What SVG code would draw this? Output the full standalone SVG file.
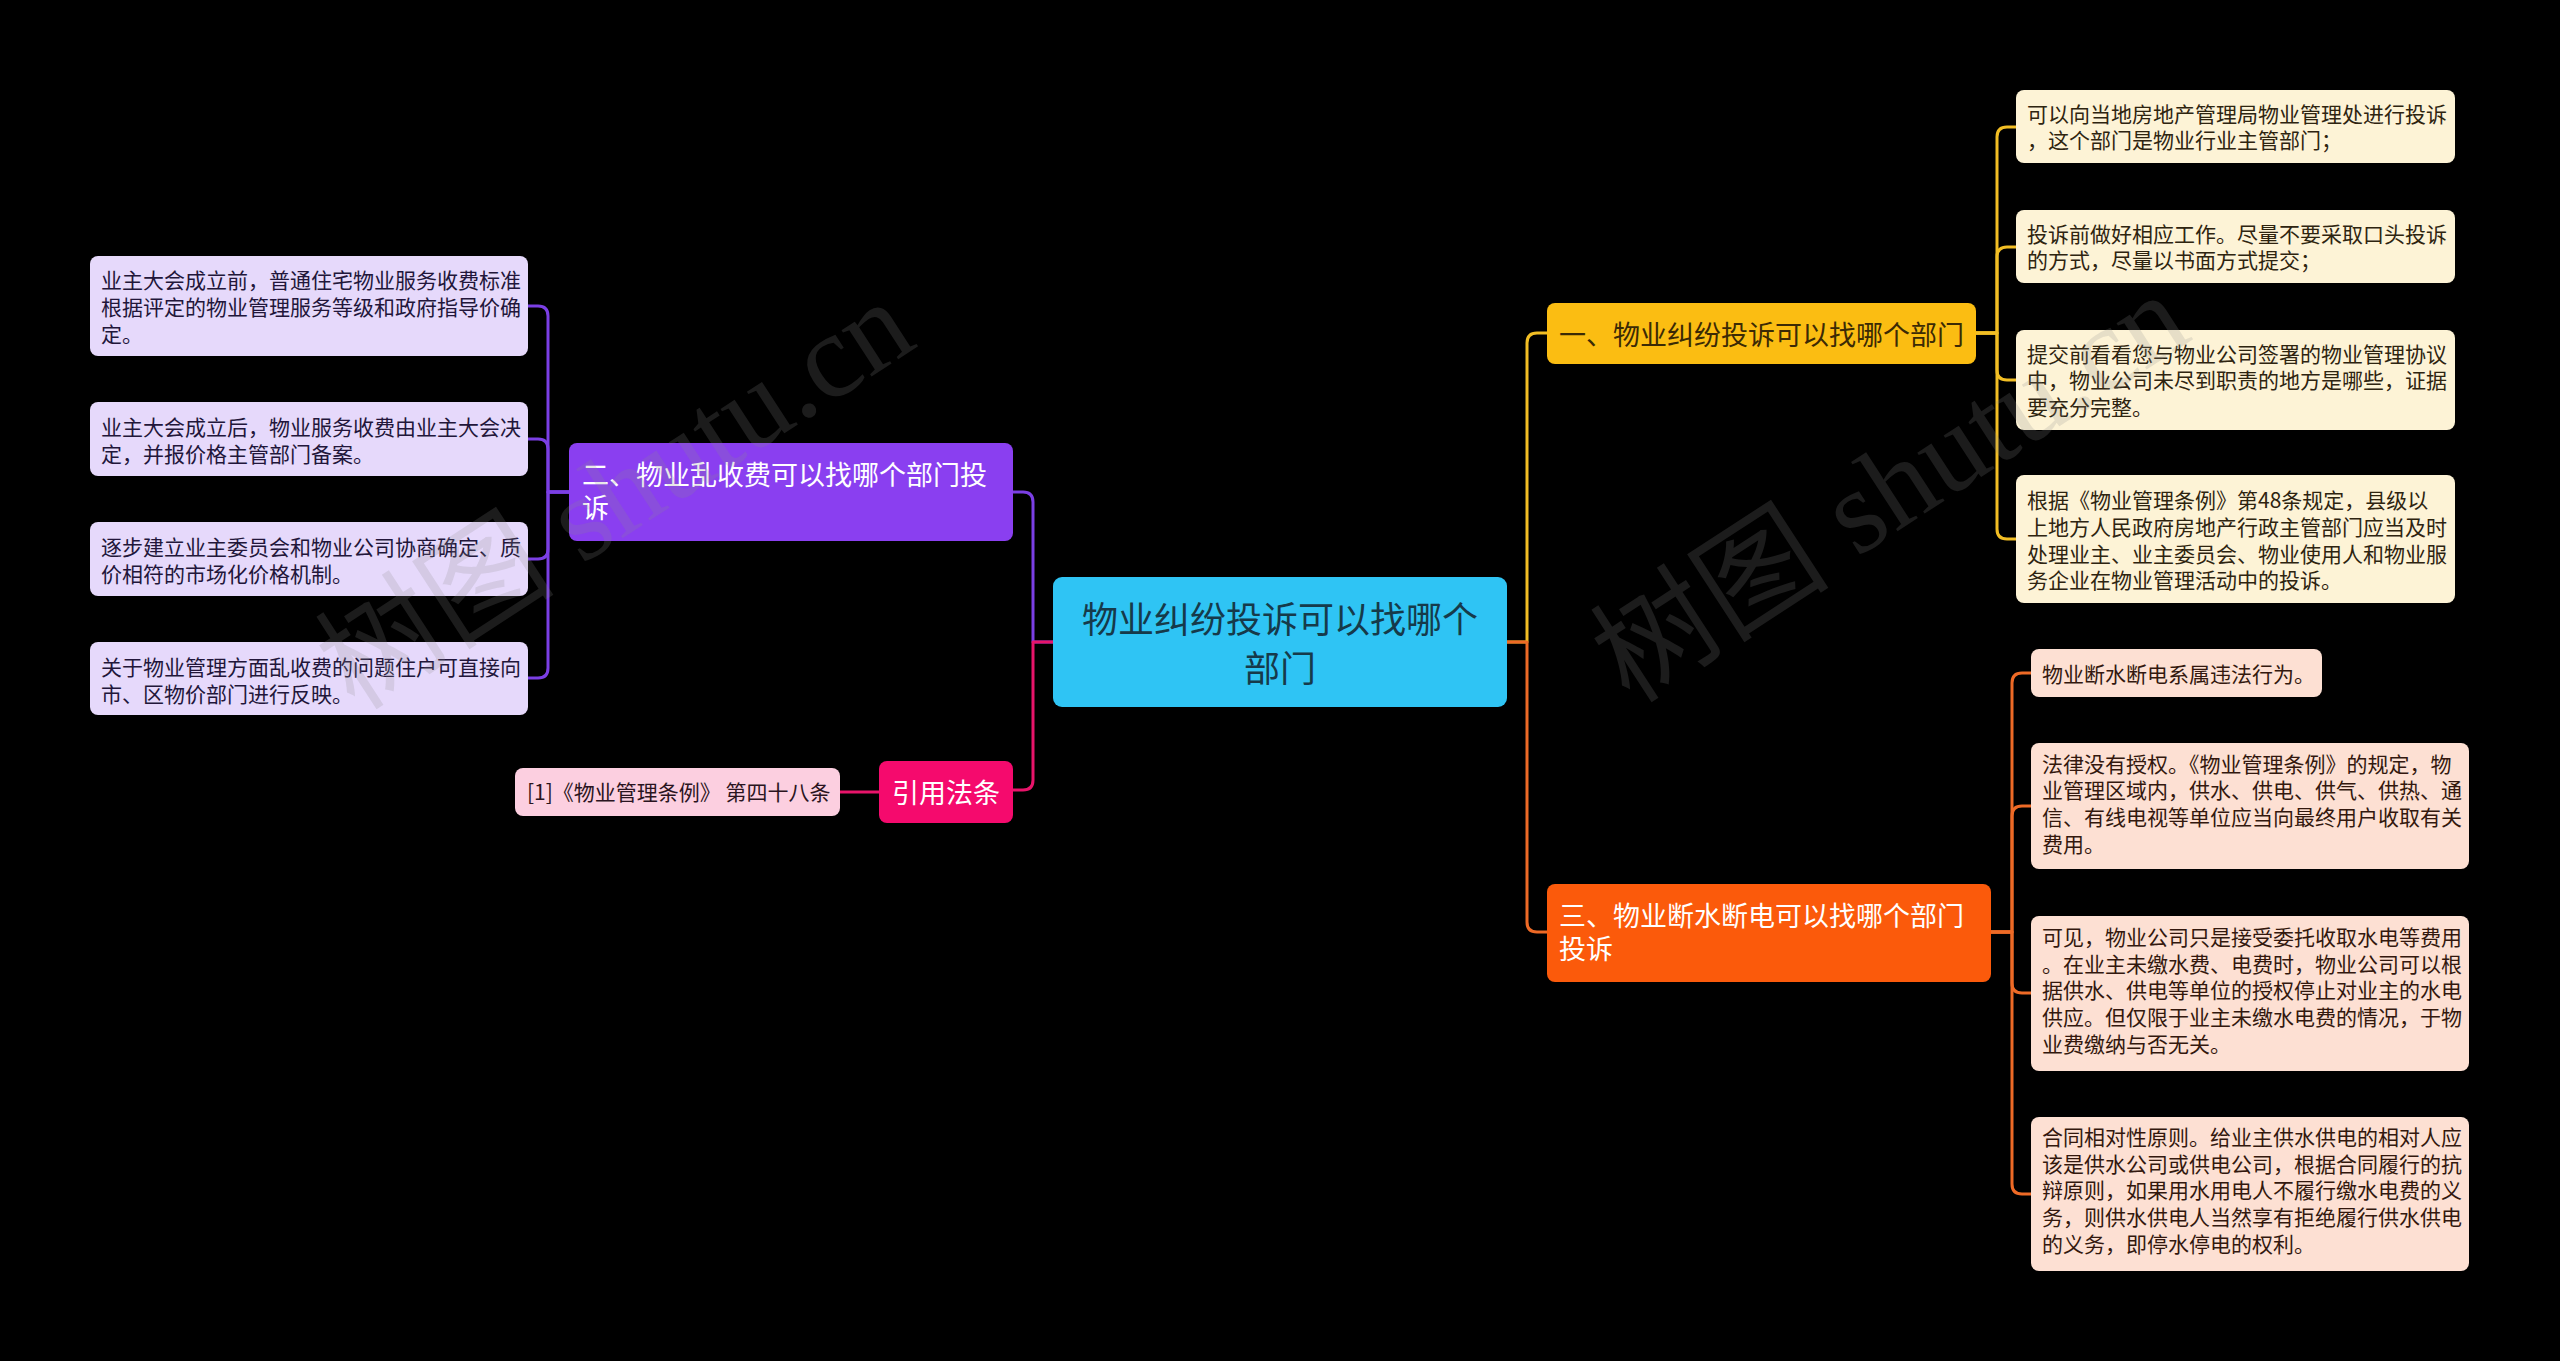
<svg xmlns="http://www.w3.org/2000/svg" width="2560" height="1361" viewBox="0 0 2560 1361">
<style>
text{font-family:"Noto Sans CJK SC","Noto Sans",sans-serif;}
.leaf{font-size:21px;}
.big{font-size:27px;}
.conn{fill:none;stroke-width:3;stroke-linejoin:round;}
.wm{font-family:"Liberation Serif","Noto Sans CJK SC",serif;font-size:120px;fill:#8c8c8c;fill-opacity:0.2;}
</style>
<rect x="0" y="0" width="2560" height="1361" fill="#000"/>

<g id="connectors">
  <path class="conn" stroke="#7b3fe4" d="M1053,642 H1033 V502 Q1033,492 1023,492 H1013"/>
  <path class="conn" stroke="#7b3fe4" d="M569,492 H548 V316 Q548,306 538,306 H528"/>
  <path class="conn" stroke="#7b3fe4" d="M569,492 H548 V449 Q548,439 538,439 H528"/>
  <path class="conn" stroke="#7b3fe4" d="M569,492 H548 V549 Q548,559 538,559 H528"/>
  <path class="conn" stroke="#7b3fe4" d="M569,492 H548 V668 Q548,678 538,678 H528"/>
  <path class="conn" stroke="#e8146a" d="M1053,642 H1033 V780 Q1033,790 1023,790 H1013"/>
  <path class="conn" stroke="#e8146a" d="M879,792 H840"/>
  <path class="conn" stroke="#f2be24" d="M1507,642 H1527 V343 Q1527,333 1537,333 H1547"/>
  <path class="conn" stroke="#f2be24" d="M1976,333 H1997 V137 Q1997,127 2007,127 H2016"/>
  <path class="conn" stroke="#f2be24" d="M1976,333 H1997 V257 Q1997,247 2007,247 H2016"/>
  <path class="conn" stroke="#f2be24" d="M1976,333 H1997 V370 Q1997,380 2007,380 H2016"/>
  <path class="conn" stroke="#f2be24" d="M1976,333 H1997 V529 Q1997,539 2007,539 H2016"/>
  <path class="conn" stroke="#ee6a26" d="M1507,642 H1527 V922 Q1527,932 1537,932 H1547"/>
  <path class="conn" stroke="#ee6a26" d="M1991,932 H2012 V683 Q2012,673 2022,673 H2031"/>
  <path class="conn" stroke="#ee6a26" d="M1991,932 H2012 V816 Q2012,806 2022,806 H2031"/>
  <path class="conn" stroke="#ee6a26" d="M1991,932 H2012 V983 Q2012,993 2022,993 H2031"/>
  <path class="conn" stroke="#ee6a26" d="M1991,932 H2012 V1184 Q2012,1194 2022,1194 H2031"/>
</g>

<g id="root">
  <rect x="1053" y="577" width="454" height="130" rx="9" fill="#2fc4f4"/>
  <text x="1280" y="633" font-size="36" fill="#163a4a" text-anchor="middle">物业纠纷投诉可以找哪个</text>
  <text x="1280" y="682" font-size="36" fill="#163a4a" text-anchor="middle">部门</text>
</g>

<g id="node-1">
  <rect x="1547" y="303" width="429" height="61" rx="8" fill="#fbbd12"/>
  <text class="big" x="1559" y="345" fill="#3b2a05">一、物业纠纷投诉可以找哪个部门</text>
</g>
<g id="node-1-1">
  <rect x="2016" y="90" width="439" height="73" rx="8" fill="#fdf3d6"/>
  <text class="leaf" x="2027" y="122" fill="#2e2410">可以向当地房地产管理局物业管理处进行投诉</text>
  <text class="leaf" x="2027" y="148" fill="#2e2410">，这个部门是物业行业主管部门；</text>
</g>
<g id="node-1-2">
  <rect x="2016" y="210" width="439" height="73" rx="8" fill="#fdf3d6"/>
  <text class="leaf" x="2027" y="242" fill="#2e2410">投诉前做好相应工作。尽量不要采取口头投诉</text>
  <text class="leaf" x="2027" y="268" fill="#2e2410">的方式，尽量以书面方式提交；</text>
</g>
<g id="node-1-3">
  <rect x="2016" y="330" width="439" height="100" rx="8" fill="#fdf3d6"/>
  <text class="leaf" x="2027" y="362" fill="#2e2410">提交前看看您与物业公司签署的物业管理协议</text>
  <text class="leaf" x="2027" y="388" fill="#2e2410">中，物业公司未尽到职责的地方是哪些，证据</text>
  <text class="leaf" x="2027" y="415" fill="#2e2410">要充分完整。</text>
</g>
<g id="node-1-4">
  <rect x="2016" y="475" width="439" height="128" rx="8" fill="#fdf3d6"/>
  <text class="leaf" x="2027" y="508" fill="#2e2410">根据《物业管理条例》第48条规定，县级以</text>
  <text class="leaf" x="2027" y="535" fill="#2e2410">上地方人民政府房地产行政主管部门应当及时</text>
  <text class="leaf" x="2027" y="562" fill="#2e2410">处理业主、业主委员会、物业使用人和物业服</text>
  <text class="leaf" x="2027" y="588" fill="#2e2410">务企业在物业管理活动中的投诉。</text>
</g>

<g id="node-3">
  <rect x="1547" y="884" width="444" height="98" rx="8" fill="#fb5a0b"/>
  <text class="big" x="1559" y="926" fill="#fff">三、物业断水断电可以找哪个部门</text>
  <text class="big" x="1559" y="959" fill="#fff">投诉</text>
</g>
<g id="node-3-1">
  <rect x="2031" y="649" width="291" height="48" rx="8" fill="#fde0d3"/>
  <text class="leaf" x="2042" y="682" fill="#33180e">物业断水断电系属违法行为。</text>
</g>
<g id="node-3-2">
  <rect x="2031" y="743" width="438" height="126" rx="8" fill="#fde0d3"/>
  <text class="leaf" x="2042" y="772" fill="#33180e">法律没有授权。《物业管理条例》的规定，物</text>
  <text class="leaf" x="2042" y="798" fill="#33180e">业管理区域内，供水、供电、供气、供热、通</text>
  <text class="leaf" x="2042" y="825" fill="#33180e">信、有线电视等单位应当向最终用户收取有关</text>
  <text class="leaf" x="2042" y="852" fill="#33180e">费用。</text>
</g>
<g id="node-3-3">
  <rect x="2031" y="916" width="438" height="155" rx="8" fill="#fde0d3"/>
  <text class="leaf" x="2042" y="945" fill="#33180e">可见，物业公司只是接受委托收取水电等费用</text>
  <text class="leaf" x="2042" y="972" fill="#33180e">。在业主未缴水费、电费时，物业公司可以根</text>
  <text class="leaf" x="2042" y="998" fill="#33180e">据供水、供电等单位的授权停止对业主的水电</text>
  <text class="leaf" x="2042" y="1025" fill="#33180e">供应。但仅限于业主未缴水电费的情况，于物</text>
  <text class="leaf" x="2042" y="1052" fill="#33180e">业费缴纳与否无关。</text>
</g>
<g id="node-3-4">
  <rect x="2031" y="1117" width="438" height="154" rx="8" fill="#fde0d3"/>
  <text class="leaf" x="2042" y="1145" fill="#33180e">合同相对性原则。给业主供水供电的相对人应</text>
  <text class="leaf" x="2042" y="1172" fill="#33180e">该是供水公司或供电公司，根据合同履行的抗</text>
  <text class="leaf" x="2042" y="1198" fill="#33180e">辩原则，如果用水用电人不履行缴水电费的义</text>
  <text class="leaf" x="2042" y="1225" fill="#33180e">务，则供水供电人当然享有拒绝履行供水供电</text>
  <text class="leaf" x="2042" y="1252" fill="#33180e">的义务，即停水停电的权利。</text>
</g>

<g id="node-2">
  <rect x="569" y="443" width="444" height="98" rx="8" fill="#8a3ff0"/>
  <text class="big" x="582" y="485" fill="#fff">二、物业乱收费可以找哪个部门投</text>
  <text class="big" x="582" y="518" fill="#fff">诉</text>
</g>
<g id="node-2-1">
  <rect x="90" y="256" width="438" height="100" rx="8" fill="#e6d9fb"/>
  <text class="leaf" x="101" y="288" fill="#22163a">业主大会成立前，普通住宅物业服务收费标准</text>
  <text class="leaf" x="101" y="315" fill="#22163a">根据评定的物业管理服务等级和政府指导价确</text>
  <text class="leaf" x="101" y="342" fill="#22163a">定。</text>
</g>
<g id="node-2-2">
  <rect x="90" y="402" width="438" height="74" rx="8" fill="#e6d9fb"/>
  <text class="leaf" x="101" y="435" fill="#22163a">业主大会成立后，物业服务收费由业主大会决</text>
  <text class="leaf" x="101" y="462" fill="#22163a">定，并报价格主管部门备案。</text>
</g>
<g id="node-2-3">
  <rect x="90" y="522" width="438" height="74" rx="8" fill="#e6d9fb"/>
  <text class="leaf" x="101" y="555" fill="#22163a">逐步建立业主委员会和物业公司协商确定、质</text>
  <text class="leaf" x="101" y="582" fill="#22163a">价相符的市场化价格机制。</text>
</g>
<g id="node-2-4">
  <rect x="90" y="642" width="438" height="73" rx="8" fill="#e6d9fb"/>
  <text class="leaf" x="101" y="675" fill="#22163a">关于物业管理方面乱收费的问题住户可直接向</text>
  <text class="leaf" x="101" y="702" fill="#22163a">市、区物价部门进行反映。</text>
</g>

<g id="node-4">
  <rect x="879" y="761" width="134" height="62" rx="8" fill="#f50a6d"/>
  <text class="big" x="946" y="803" fill="#fff" text-anchor="middle">引用法条</text>
</g>
<g id="node-4-1">
  <rect x="515" y="768" width="325" height="48" rx="8" fill="#fccfe0"/>
  <text class="leaf" x="527" y="800" fill="#2a1420">[1]《物业管理条例》 第四十八条</text>
</g>

<g id="watermarks">
  <text class="wm" transform="translate(355,712) rotate(-33)">树图 shutu.cn</text>
  <text class="wm" transform="translate(1630,705) rotate(-33)">树图 shutu.cn</text>
</g>
</svg>
